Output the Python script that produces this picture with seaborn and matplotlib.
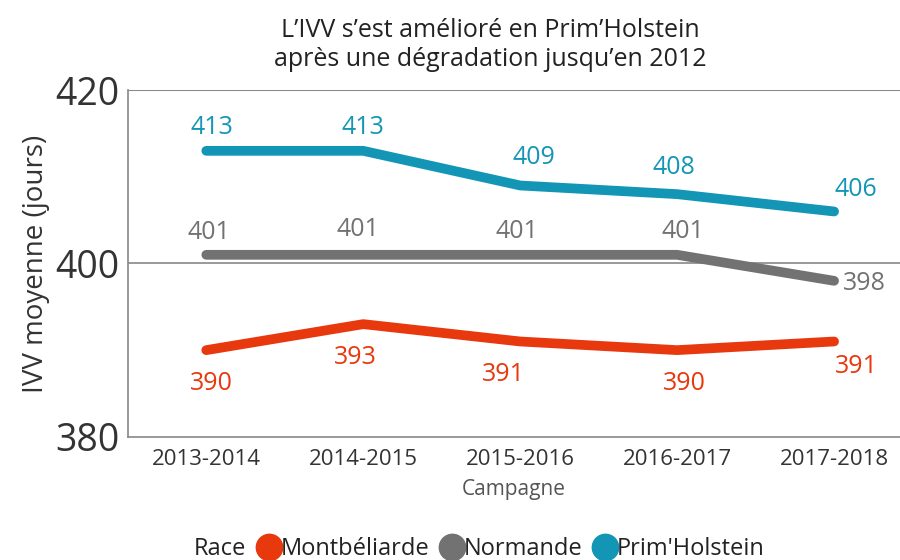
import pandas as pd
import seaborn as sns
import matplotlib.pyplot as plt
from matplotlib.lines import Line2D

# Données
campagnes = ['2013-2014', '2014-2015', '2015-2016', '2016-2017', '2017-2018']
races = ['Montbéliarde', 'Normande', "Prim'Holstein"]
montbeliarde = [390, 393, 391, 390, 391]
normande = [401, 401, 401, 401, 398]
prim_holstein = [413, 413, 409, 408, 406]

couleurs = {'Montbéliarde': '#E8380D', 'Normande': '#727272', "Prim'Holstein": '#1396B5'}

df = pd.DataFrame({
    'Campagne': campagnes * 3,
    'Race': [r for r in races for _ in campagnes],
    'IVV': montbeliarde + normande + prim_holstein,
})
df['x'] = df['Campagne'].map({c: i for i, c in enumerate(campagnes)})

sns.set_theme(style='white')
plt.rcParams['font.family'] = ['Open Sans', 'DejaVu Sans']

fig = plt.figure(figsize=(9, 5.6), dpi=100)
ax = fig.add_axes([0.142, 0.22, 0.858, 0.619])

sns.lineplot(data=df, x='x', y='IVV', hue='Race', palette=couleurs,
             hue_order=races, linewidth=7, solid_capstyle='round',
             legend=False, ax=ax)

# Étiquettes de valeurs (décalages en points)
decalages = {
    'Montbéliarde': [(4, -24), (-6, -24), (-12, -24), (5, -24), (16, -18)],
    'Normande': [(2, 16), (-4, 18), (-2, 17), (4, 17), (22, -2)],
    "Prim'Holstein": [(4, 17), (0, 17), (10, 20), (-2, 19), (16, 16)],
}
for race, vals in zip(races, [montbeliarde, normande, prim_holstein]):
    for i, v in enumerate(vals):
        dx, dy = decalages[race][i]
        ax.annotate(str(v), (i, v), xytext=(dx, dy), textcoords='offset points',
                    ha='center', va='center', fontsize=18, color=couleurs[race])

ax.set_xlim(-0.5, 4.42)
ax.set_ylim(380, 420)
ax.set_yticks([380, 400, 420])
ax.set_xticks(range(len(campagnes)))
ax.set_xticklabels(campagnes)
ax.set_xticks([0.5, 1.5, 2.5, 3.5], minor=True)
ax.tick_params(axis='y', labelsize=27, colors='#333333', length=0, pad=6)
ax.tick_params(axis='x', which='major', labelsize=16, colors='#333333', length=0, pad=9)
ax.tick_params(axis='x', which='minor', direction='in', length=8, width=1, color='#888888')
ax.axhline(400, color='#888888', lw=1.2, zorder=0)
ax.axhline(420, color='#888888', lw=1.5, zorder=0)

for s in ['top', 'right']:
    ax.spines[s].set_visible(False)
for s in ['left', 'bottom']:
    ax.spines[s].set_color('#888888')
    ax.spines[s].set_linewidth(1.2)

ax.set_xlabel('Campagne', fontsize=15, color='#555555', labelpad=6)
ax.set_ylabel('IVV moyenne (jours)', fontsize=20, color='#333333', labelpad=4)

fig.text(0.545, 0.92, "L’IVV s’est amélioré en Prim’Holstein\naprès une dégradation jusqu’en 2012",
         ha='center', va='center', fontsize=18, color='#222222', linespacing=1.2)

# Légende en bas
handles = [Line2D([], [], linestyle='none', marker='')]
labels = ['Race']
for race in races:
    handles.append(Line2D([], [], linestyle='none', marker='o', markersize=19,
                          color=couleurs[race]))
    labels.append(race)
fig.legend(handles, labels, loc='center', bbox_to_anchor=(0.52, 0.02), ncol=4,
           frameon=False, fontsize=17, handletextpad=0.05, columnspacing=0.5,
           handlelength=0.9, labelcolor='#222222')

fig.savefig('out.png', dpi=100)
